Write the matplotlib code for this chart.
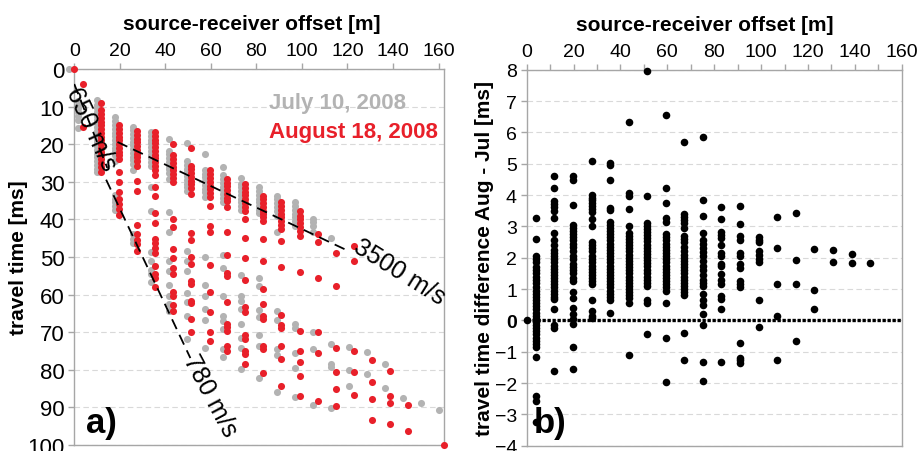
import matplotlib
matplotlib.use("Agg")
import matplotlib.pyplot as plt
from matplotlib.ticker import MultipleLocator

plt.rcParams['font.family'] = ['Liberation Sans', 'DejaVu Sans']

# first-break picks, July 10, 2008: offset [m] and travel times [ms] per trace
jul_offset = [-2.1, 1.8, 9.8, 17.7, 25.6, 33.5, 41.4, 49.3, 57.3, 65.2, 73.1,
              81.0, 88.9, 96.9, 104.8, 112.7, 120.6, 128.6, 136.5, 144.4, 152.3, 160.3]
jul_times = [
    [0.0],
    [8.5, 9.5, 10.5, 11.5, 12.5, 13.5, 15.8],
    [8.3, 9.5, 10.5, 11.5, 12.5, 13.5, 14.5, 15.5, 16.5, 17.5, 18.5, 19.5, 20.5,
     21.5, 22.5, 23.5, 24.5, 25.5, 26.5, 27.5],
    [12.9, 13.9, 14.9, 15.9, 16.9, 17.9, 18.9, 19.9, 20.9, 21.9, 22.9, 24.5,
     33.5, 34.5, 35.5, 36.5, 37.5],
    [15.3, 16.3, 17.3, 18.3, 19.3, 20.3, 21.3, 22.3, 23.3, 24.3, 25.3, 26.8,
     43.9, 45.2, 46.3],
    [16.8, 17.8, 18.8, 19.8, 20.8, 21.8, 22.8, 23.8, 24.8, 25.8, 31.5, 37.8,
     48.8, 51.2, 53.4, 54.6, 56.7],
    [18.6, 21.7, 22.7, 23.7, 24.7, 25.7, 26.7, 27.7, 29.2, 38.0, 43.4, 51.0,
     53.6, 57.5, 60.3, 62.5, 64.3],
    [19.6, 24.5, 25.5, 26.5, 27.5, 28.5, 29.5, 30.5, 31.5, 32.5, 48.3, 51.2,
     53.6, 59.6, 62.1, 65.6, 71.8],
    [22.5, 26.8, 27.8, 28.8, 29.8, 30.8, 31.8, 32.8, 34.0, 50.1, 57.4, 60.5,
     63.8, 66.7, 74.2],
    [26.0, 28.3, 29.3, 30.3, 31.3, 32.3, 33.3, 34.3, 35.5, 49.6, 53.0, 60.3,
     65.6, 67.0, 69.1, 74.5, 76.7],
    [29.0, 30.5, 31.5, 32.5, 33.5, 34.5, 35.5, 36.5, 37.5, 54.8, 60.3, 61.6,
     63.8, 67.8, 71.6, 74.3, 79.8],
    [31.5, 32.5, 33.5, 34.5, 35.5, 36.5, 37.5, 38.2, 55.7, 57.6, 64.1, 65.9,
     70.7, 73.6, 82.3],
    [33.7, 34.7, 35.7, 36.7, 37.7, 39.0, 43.4, 64.3, 66.8, 74.5, 76.1, 85.8],
    [35.5, 36.5, 37.5, 38.5, 39.5, 40.5, 41.7, 67.8, 68.9, 75.5, 79.6, 87.3],
    [39.9, 40.8, 41.7, 43.4, 69.9, 74.5, 89.4],
    [45.0, 73.1, 78.5, 79.3, 90.2],
    [74.0, 80.0, 84.2],
    [75.4, 81.1],
    [78.5, 84.9],
    [87.6],
    [88.8],
    [90.6],
]

# first-break picks, August 18, 2008
aug_offset = [0.0, 3.9, 11.9, 19.8, 27.7, 35.6, 43.5, 51.4, 59.4, 67.3, 75.2,
              83.1, 91.0, 99.0, 106.9, 114.8, 122.7, 130.7, 138.6, 146.5, 162.4]
aug_times = [
    [0.0],
    [4.0, 15.3],
    [9.0, 11.0, 12.0, 13.0, 14.0, 15.0, 16.0, 17.0, 18.0, 19.0, 20.0, 21.0,
     22.0, 23.0, 24.0, 25.0, 26.0, 27.4],
    [15.0, 16.0, 17.0, 18.0, 19.0, 20.0, 21.0, 22.0, 23.0, 24.0, 27.4, 30.0,
     32.7, 34.5, 35.8, 37.2, 38.8],
    [16.6, 17.5, 18.5, 19.5, 20.5, 21.5, 22.5, 23.5, 24.5, 25.7, 29.8, 32.5,
     41.5, 43.8, 45.5, 46.5, 48.5],
    [16.8, 17.8, 18.8, 19.8, 20.8, 21.8, 22.8, 23.8, 24.8, 25.8, 26.8, 28.2,
     31.5, 33.7, 38.2, 41.0, 45.3, 46.3, 47.5, 49.0, 52.3, 54.5, 55.5, 58.1],
    [19.9, 23.0, 24.0, 25.0, 26.0, 27.0, 28.0, 29.0, 30.1, 40.0, 42.0, 48.0,
     50.2, 53.0, 54.5, 59.2, 60.3, 62.8, 64.3],
    [21.1, 25.7, 26.7, 27.7, 28.7, 29.7, 30.7, 31.7, 33.2, 43.5, 45.5, 50.1,
     51.9, 56.3, 57.2, 61.6, 62.3, 66.5, 70.0],
    [27.0, 28.0, 29.0, 30.0, 31.0, 32.0, 33.0, 34.0, 36.4, 41.8, 43.4, 52.1,
     59.4, 64.7, 70.0, 72.3],
    [29.2, 30.2, 31.2, 32.2, 33.2, 34.2, 35.2, 36.8, 43.3, 49.5, 54.3, 55.0,
     61.9, 67.8, 68.6, 69.6, 73.6, 74.9],
    [30.6, 31.6, 32.6, 33.6, 34.6, 35.6, 36.6, 37.7, 39.9, 45.0, 50.3, 56.1,
     63.4, 64.5, 70.7, 71.8, 74.9, 75.8, 78.5],
    [33.7, 34.7, 35.7, 36.7, 37.7, 38.7, 39.5, 40.3, 45.2, 51.0, 58.5, 62.5,
     65.6, 66.5, 73.6, 74.5, 80.8],
    [35.5, 36.5, 37.5, 38.5, 39.5, 40.5, 41.5, 42.5, 45.7, 52.7, 65.4, 68.1,
     69.0, 73.8, 77.1, 84.4],
    [37.7, 39.0, 40.0, 41.0, 42.0, 43.0, 44.3, 54.1, 69.6, 74.9, 78.0, 81.7, 87.1],
    [43.9, 46.1, 55.7, 70.0, 75.6, 88.2],
    [48.9, 57.8, 74.2, 80.7, 85.1, 89.5],
    [47.0, 51.2, 75.1, 80.5, 86.7],
    [77.3, 83.3, 87.9, 93.3],
    [80.4, 87.1, 88.8, 94.4],
    [89.4, 96.2],
    [100.0],
]

# travel time difference Aug - Jul [ms] per trace
diff_offset = [0.0, 3.9, 11.8, 19.8, 27.7, 35.6, 43.5, 51.4, 59.4, 67.3, 75.2,
               83.1, 91.0, 99.0, 106.9, 114.8, 122.7, 130.7, 138.6, 146.5]
diff_values = [
    [0.0],
    [3.26, 2.6, 2.05, 1.95, 1.85, 1.7, 1.6, 1.5, 1.4, 1.3, 1.2, 1.05, 0.95, 0.85,
     0.75, 0.65, 0.55, 0.45, 0.35, 0.25, 0.15, 0.05, -0.05, -0.15, -0.25, -0.35,
     -0.45, -0.55, -0.65, -0.75, -0.85, -1.18, -2.42, -2.58, -3.25],
    [4.62, 4.22, 3.82, 3.72, 3.62, 3.5, 3.26, 2.78, 2.55, 2.4, 2.25, 2.15, 2.05,
     1.95, 1.85, 1.75, 1.65, 1.55, 1.45, 1.35, 1.25, 1.15, 1.05, 0.95, 0.85, 0.75,
     0.68, 0.35, -0.15, -0.25, -1.6],
    [4.62, 4.48, 3.68, 3.05, 2.95, 2.85, 2.75, 2.65, 2.55, 2.45, 2.35, 2.2, 2.05,
     1.95, 1.8, 1.7, 1.6, 1.5, 1.35, 1.25, 0.9, 0.7, 0.4, 0.2, 0.05, -0.1, -0.85,
     -1.55],
    [5.1, 4.0, 3.92, 3.85, 3.75, 3.65, 3.55, 3.45, 3.22, 3.0, 2.5, 2.4, 2.3, 2.2,
     2.05, 1.95, 1.85, 1.75, 1.65, 1.55, 1.45, 1.35, 1.25, 1.15, 0.65, 0.3, 0.15,
     0.08],
    [5.02, 4.95, 4.48, 3.6, 3.52, 3.15, 3.05, 2.95, 2.85, 2.75, 2.65, 2.55, 2.45,
     2.35, 2.25, 2.15, 2.05, 1.95, 1.85, 1.75, 1.65, 1.55, 1.45, 1.35, 1.25, 1.15,
     1.05, 0.95, 0.85, 0.75, 0.65, 0.25],
    [6.33, 4.08, 3.96, 3.55, 3.02, 2.8, 2.7, 2.6, 2.5, 2.4, 2.3, 2.2, 2.1, 2.0,
     1.9, 1.8, 1.7, 1.6, 1.5, 1.4, 1.3, 1.2, 1.1, 1.0, 0.9, 0.8, 0.7, 0.55, -1.1],
    [7.95, 3.97, 3.12, 3.02, 2.92, 2.82, 2.72, 2.62, 2.52, 2.42, 2.32, 2.22, 2.12,
     2.02, 1.92, 1.82, 1.72, 1.62, 1.52, 1.4, 1.3, 1.2, 1.1, 0.65, 0.57, -0.42],
    [6.57, 4.22, 3.74, 3.28, 3.15, 2.75, 2.65, 2.55, 2.45, 2.35, 2.25, 2.15, 2.05,
     1.95, 1.85, 1.75, 1.65, 1.55, 1.45, 1.35, 1.25, 1.15, 1.05, 0.95, 0.57,
     -0.57, -1.98],
    [5.68, 3.4, 3.3, 3.2, 3.1, 2.95, 2.7, 2.6, 2.5, 2.35, 2.2, 2.1, 2.0, 1.9, 1.8,
     1.7, 1.6, 1.5, 1.4, 1.3, 1.2, 1.1, 1.0, 0.9, 0.8, -0.4, -1.25],
    [5.84, 3.85, 3.33, 2.8, 2.55, 2.45, 2.3, 2.18, 2.05, 1.9, 1.75, 1.6, 1.45,
     1.3, 1.2, 1.1, 0.85, 0.65, 0.5, 0.2, -0.15, -1.33, -1.95],
    [3.62, 3.23, 2.82, 2.72, 2.62, 2.42, 2.15, 2.05, 1.8, 1.72, 1.48, 1.28, 1.16,
     0.78, 0.68, 0.35, -1.33],
    [3.65, 3.07, 2.68, 2.58, 2.15, 2.05, 1.8, 1.66, 1.27, 1.16, 1.05, -0.73,
     -1.2, -1.28, -1.36],
    [2.65, 2.57, 2.5, 2.2, 2.1, 1.95, 1.85, 0.65, -0.22],
    [3.3, 2.32, 1.15, 0.13, -1.27],
    [3.43, 1.93, 1.17, -0.65],
    [2.28, 0.97, 0.37],
    [2.23, 1.85],
    [2.12, 1.84],
    [1.84],
]

# apparent velocity lines: velocity [m/s], intercept time [ms], offset range [m]
vel_speed = [650, 3500, 780]
vel_t0 = [4.0, 14.0, 11.5]
vel_xmin = [0.0, 19.0, 14.0]
vel_xmax = [14.5, 120.0, 51.0]
vel_label = ['650 m/s', '3500 m/s', '780 m/s']
vel_label_x = [7.5, 143.0, 59.6]
vel_label_t = [15.8, 53.7, 86.8]
vel_label_rot = [-65.0, -32.0, -62.0]


def flatten(offsets, groups):
    xs, ys = [], []
    for x, g in zip(offsets, groups):
        for v in g:
            xs.append(x)
            ys.append(v)
    return xs, ys


RED = '#E8202A'
GREY = '#B3B3B3'
FRAME = '#A6A6A6'
GRID = '#D9D9D9'

fig = plt.figure(figsize=(9.19, 4.52), dpi=100)
ax1 = fig.add_axes([0.0808, 0.0133, 0.4026, 0.8319])
ax2 = fig.add_axes([0.5731, 0.0117, 0.4081, 0.8319])

# --- a) travel times ---
jx, jt = flatten(jul_offset, jul_times)
ax_x, ax_t = flatten(aug_offset, aug_times)
ax1.scatter(jx, jt, s=26, color=GREY, linewidths=0, zorder=3, clip_on=False)
ax1.scatter(ax_x, ax_t, s=26, color=RED, linewidths=0, zorder=4, clip_on=False)

for v, t0, xa, xb in zip(vel_speed, vel_t0, vel_xmin, vel_xmax):
    # t [ms] = t0 + x / v
    ax1.plot([xa, xb], [t0 + xa * 1000.0 / v, t0 + xb * 1000.0 / v],
             color='black', lw=1.3, dashes=(6, 3.5), zorder=5)
for txt, lx, lt, rot in zip(vel_label, vel_label_x, vel_label_t, vel_label_rot):
    ax1.text(lx, lt, txt, rotation=rot, fontsize=18, ha='center', va='center',
             rotation_mode='anchor', zorder=6)

ax1.set_xlim(0, 162.5)
ax1.set_ylim(100, 0)
ax1.xaxis.tick_top()
ax1.xaxis.set_label_position('top')
ax1.set_xticks(range(0, 161, 20))
ax1.set_yticks(range(0, 101, 10))
ax1.set_xlabel('source-receiver offset [m]', fontsize=15, fontweight='bold')
ax1.set_ylabel('travel time [ms]', fontsize=15, fontweight='bold')
ax1.xaxis.set_label_coords(0.481, 1.105)
ax1.yaxis.set_label_coords(-0.125, 0.5)
ax1.yaxis.grid(True, color=GRID, ls=(0, (5, 3)), lw=0.8)
ax1.set_axisbelow(True)

ax1.text(85.4, 10.5, 'July 10, 2008', color=GREY, fontsize=16, fontweight='bold',
         ha='left', va='baseline')
ax1.text(85.4, 18.0, 'August 18, 2008', color=RED, fontsize=16, fontweight='bold',
         ha='left', va='baseline')
ax1.text(5, 96.5, 'a)', fontsize=25, fontweight='bold', ha='left', va='baseline')

# --- b) difference ---
dx, dv = flatten(diff_offset, diff_values)
ax2.axhline(0, color='black', lw=2.4, ls=(0, (1.0, 0.5)), zorder=2)
ax2.scatter(dx, dv, s=30, color='black', linewidths=0, zorder=3, clip_on=False)

ax2.set_xlim(0, 160)
ax2.set_ylim(-4, 8)
ax2.xaxis.tick_top()
ax2.xaxis.set_label_position('top')
ax2.set_xticks(range(0, 161, 20))
ax2.xaxis.set_minor_locator(MultipleLocator(10))
ax2.set_yticks(range(-4, 9))
ax2.set_xlabel('source-receiver offset [m]', fontsize=15, fontweight='bold')
ax2.set_ylabel('travel time difference Aug - Jul [ms]', fontsize=15,
               fontweight='bold')
ax2.xaxis.set_label_coords(0.474, 1.105)
ax2.yaxis.set_label_coords(-0.088, 0.5)
ax2.yaxis.grid(True, color=GRID, ls=(0, (5, 3)), lw=0.8)
ax2.set_axisbelow(True)
ax2.text(3, -3.55, 'b)', fontsize=25, fontweight='bold', ha='left', va='baseline')

for ax in (ax1, ax2):
    for sp in ax.spines.values():
        sp.set_color(FRAME)
        sp.set_linewidth(1.0)
    ax.tick_params(which='both', colors=FRAME, length=4, width=1.0,
                   labelcolor='black', labelsize=14)
ax1.tick_params(axis='x', pad=3)
ax1.tick_params(axis='y', pad=3, labelsize=16)
ax2.tick_params(axis='x', pad=3)
ax2.tick_params(axis='y', pad=3)
ax2.get_yticklabels()[4].set_fontweight('bold')

fig.savefig('out.png', dpi=100)
